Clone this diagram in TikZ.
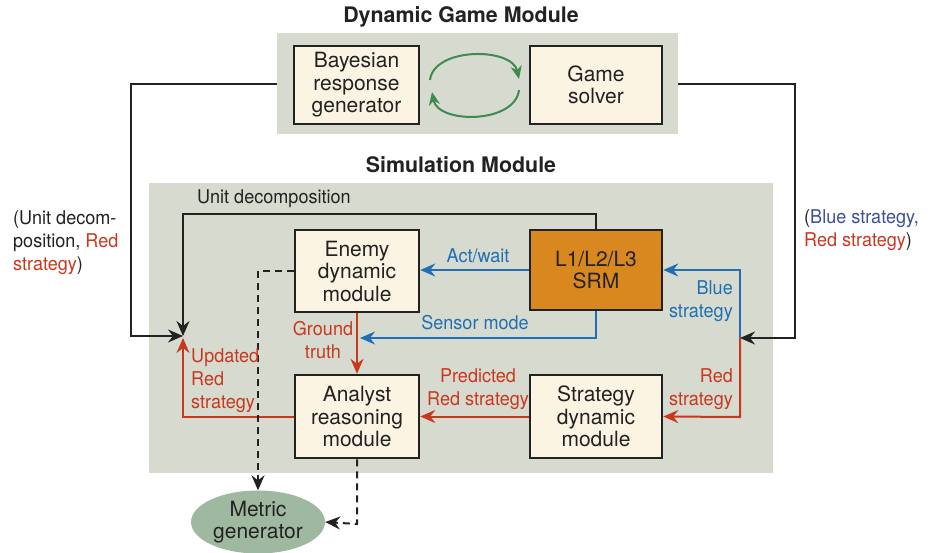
\documentclass[tikz,border=0pt]{standalone}
\usepackage{fontspec}
\setmainfont{TeX Gyre Heros}
\newfontfamily\cond[FakeStretch=0.95]{TeX Gyre Heros}
\usetikzlibrary{arrows.meta,shapes.geometric}
\definecolor{bgc}{HTML}{D7DBCF}
\definecolor{boxc}{HTML}{FBF4E2}
\definecolor{orc}{HTML}{D9881F}
\definecolor{redc}{HTML}{C8381F}
\definecolor{bluec}{HTML}{1F6FB4}
\definecolor{dbluec}{HTML}{3D4F9B}
\definecolor{grnc}{HTML}{3F8A4F}
\definecolor{metc}{HTML}{9FB8A0}
\definecolor{inkc}{HTML}{222222}
\tikzset{
  box/.style={draw=inkc, line width=2.5pt, fill=boxc, align=center, text=inkc,
    font=\fontsize{21}{22.5}\selectfont, inner sep=0pt},
  lbl/.style={font=\cond\fontsize{19}{23}\selectfont, inner sep=0pt},
  title/.style={font=\bfseries\fontsize{21.4}{24}\selectfont, text=inkc},
  tip/.style={-{Stealth[length=15pt,width=13pt,inset=5pt]}},
  gtip/.style={-{Stealth[length=13pt,width=11pt,inset=4pt]}},
  blk/.style={draw=inkc, line width=2pt},
  redl/.style={draw=redc, line width=2pt},
  bluel/.style={draw=bluec, line width=2pt},
  dsh/.style={draw=inkc, line width=2pt, dash pattern=on 7pt off 5pt},
}
\begin{document}
\begin{tikzpicture}[x=1pt,y=-1pt]
\useasboundingbox (0,0) rectangle (929,552);
% backgrounds
\node[fill=bgc, minimum width=401pt, minimum height=101pt, inner sep=0pt] (dgm) at (477.5,83.5) {};
\node[fill=bgc, minimum width=624pt, minimum height=290pt, inner sep=0pt] (sim) at (461,328) {};
\node[title] (t1) at (461,17) {Dynamic Game Module};
\node[title] (t2) at (461,165) {Simulation Module};
% boxes
\node[box, minimum width=125pt, minimum height=78pt] (bay) at (356.5,85) {Bayesian\\response\\generator};
\node[box, minimum width=132pt, minimum height=78pt] (gs) at (596,85) {Game\\solver};
\node[box, minimum width=124pt, minimum height=82pt] (enemy) at (357,271) {Enemy\\dynamic\\module};
\node[box, fill=orc, minimum width=132pt, minimum height=80pt] (srm) at (596,270) {L1/L2/L3\\SRM};
\node[box, minimum width=124pt, minimum height=83pt] (analyst) at (357,416.5) {Analyst\\reasoning\\module};
\node[box, minimum width=132pt, minimum height=83pt] (strat) at (596,416.5) {Strategy\\dynamic\\module};
\node[ellipse, fill=metc, minimum width=134pt, minimum height=63pt, inner sep=0pt, align=center, text=inkc,
  font=\fontsize{21}{22.5}\selectfont] (metric) at (258,522) {Metric\\generator};
% junctions
\coordinate (J1) at (183,336);
\coordinate (J2) at (740,338);
\coordinate (L1) at (131,336);
\coordinate (R1) at (795,338);
% green cycle
\draw[draw=grnc, line width=2pt, gtip] (430,80) .. controls (434,47) and (512,47) .. (519,79);
\draw[draw=grnc, line width=2pt, gtip] (519,90) .. controls (515,124) and (438,124) .. (432,92);
% outer black connectors
\draw[blk, tip] (dgm.west) -- (dgm.west -| L1) -- (L1) -- (J1);
\draw[blk, tip] (dgm.east) -- (dgm.east -| R1) -- (R1) -- (J2);
\draw[blk, tip] (srm.north) -- (596,214) -- (183,214) -- (J1);
% blue
\draw[bluel, tip] (srm.west) -- (srm.west -| enemy.east);
\draw[bluel, tip] (srm.south) -- (596,338) -- (360,338);
\draw[bluel, tip] (J2) -- (740,270) -- (srm.east);
% red
\draw[redl, tip] (enemy.south) -- (analyst.north);
\draw[redl, tip] (J2) -- (740,417) -- (strat.east);
\draw[redl, tip] (strat.west) -- (strat.west -| analyst.east);
\draw[redl, tip] (analyst.west) -- (183,416.5) -- (183,338);
% dashed
\draw[dsh, tip] (enemy.west) -- (258,271) -- (metric.north);
\draw[dsh, tip] (analyst.south) -- (357,524) -- (metric.east);
% labels
\node[lbl, text=inkc, anchor=west] (ud) at (197,199) {Unit decomposition};
\node[lbl, text=bluec] (aw) at (478,256) {Act/wait};
\node[lbl, text=bluec] (sm) at (475,323) {Sensor mode};
\node[lbl, text=redc, align=center] (gt) at (323,340) {Ground\\truth};
\node[lbl, text=bluec, align=right, anchor=east] (bs) at (733,301.5) {Blue\\strategy};
\node[lbl, text=redc, align=right, anchor=east] (rs) at (733,389.5) {Red\\strategy};
\node[lbl, text=redc, align=center] (prs) at (478,389.5) {Predicted\\Red strategy};
\node[lbl, text=redc, align=left, anchor=west] (urs) at (191,381) {Updated\\Red\\strategy};
\node[lbl, text=inkc, align=left, anchor=west] (lside) at (13,242.5) {(Unit decom-\\position, \textcolor{redc}{Red}\\\textcolor{redc}{strategy})};
\node[lbl, text=inkc, align=left, anchor=west] (rside) at (804,230.5) {(\textcolor{dbluec}{Blue strategy,}\\\textcolor{redc}{Red strategy})};
\end{tikzpicture}
\end{document}
